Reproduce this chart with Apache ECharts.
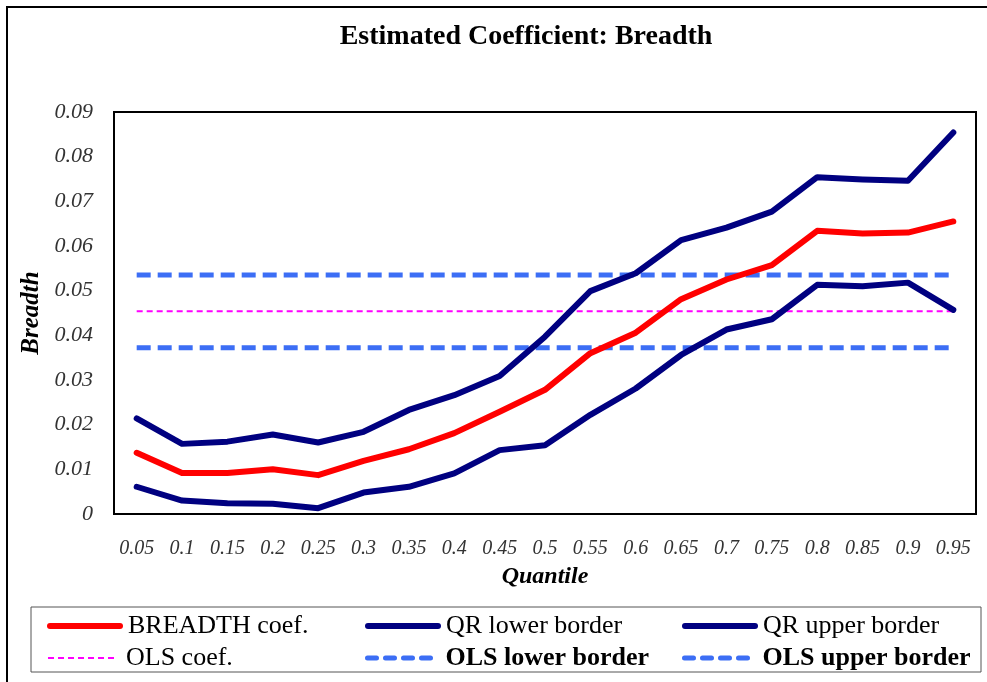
<!DOCTYPE html>
<html>
<head>
<meta charset="utf-8">
<script src="https://cdn.jsdelivr.net/npm/echarts@6/dist/echarts.min.js"></script>
<style>
html,body{margin:0;padding:0;background:#fff;}
#chart{width:987px;height:682px;}
</style>
</head>
<body>
<div id="chart"></div>
<script>
const quantiles = ['0.05','0.1','0.15','0.2','0.25','0.3','0.35','0.4','0.45','0.5','0.55','0.6','0.65','0.7','0.75','0.8','0.85','0.9','0.95'];
const breadthCoef = [0.0137,0.0092,0.0092,0.0100,0.0087,0.0119,0.0145,0.0181,0.0229,0.0278,0.0360,0.0406,0.0481,0.0525,0.0557,0.0634,0.0628,0.0630,0.0655];
const qrLower = [0.0061,0.0030,0.0024,0.0023,0.0013,0.0048,0.0061,0.0091,0.0143,0.0154,0.0222,0.0281,0.0356,0.0413,0.0436,0.0513,0.0510,0.0518,0.0457];
const qrUpper = [0.0214,0.0157,0.0162,0.0178,0.0160,0.0184,0.0233,0.0266,0.0309,0.0397,0.0499,0.0539,0.0613,0.0641,0.0677,0.0754,0.0749,0.0746,0.0854];
const olsCoef = 0.0454;
const olsLower = 0.0372;
const olsUpper = 0.0535;
const yTicks = ['0','0.01','0.02','0.03','0.04','0.05','0.06','0.07','0.08','0.09'];

const serif = '"Liberation Serif","Times New Roman",serif';
const olsCoefArr = quantiles.map(() => olsCoef);
const olsLowerArr = quantiles.map(() => olsLower);
const olsUpperArr = quantiles.map(() => olsUpper);

const RED = '#FF0000', NAVY = '#000080', BLUE = '#3C6EF5', MAG = '#FF00FF';

function legendItem(name, left, top, bold, lineStyle) {
  return {
    data: [name], left: left, top: top, padding: 0,
    itemWidth: 70, itemHeight: 14, itemGap: 0,
    selectedMode: false,
    itemStyle: { opacity: 0 },
    lineStyle: lineStyle,
    textStyle: { fontFamily: serif, fontSize: 26, color: '#000', fontWeight: bold ? 'bold' : 'normal', padding: [0,0,0,3] }
  };
}

const solidLeg = { width: 6, cap: 'round', type: 'solid' };
const blueLeg = { width: 5, cap: 'round', type: [9, 9] };
const magLeg = { width: 2, type: [6, 4] };

const chart = echarts.init(document.getElementById('chart'));
chart.setOption({
  animation: false,
  backgroundColor: '#fff',
  title: {
    text: 'Estimated Coefficient: Breadth',
    left: 521, top: 18, textAlign: 'center',
    textStyle: { fontFamily: serif, fontSize: 28, fontWeight: 'bold', color: '#000' }
  },
  grid: { left: 114, right: 11, top: 112, bottom: 168, show: true, borderColor: '#000', borderWidth: 2, backgroundColor: 'transparent' },
  legend: [
    legendItem('BREADTH coef.', 47, 613, false, solidLeg),
    legendItem('QR lower border', 365, 613, false, solidLeg),
    legendItem('QR upper border', 682, 613, false, solidLeg),
    legendItem('OLS coef.', 47, 645, false, magLeg),
    legendItem('OLS lower border', 365, 645, true, blueLeg),
    legendItem('OLS upper border', 682, 645, true, blueLeg)
  ],
  xAxis: {
    type: 'category', data: quantiles, boundaryGap: true,
    name: 'Quantile', nameLocation: 'middle', nameGap: 51,
    nameTextStyle: { fontFamily: serif, fontSize: 24, fontWeight: 'bold', fontStyle: 'italic', color: '#000' },
    axisLine: { show: true, lineStyle: { color: '#000', width: 2 } },
    axisTick: { show: false },
    axisLabel: { interval: 0, margin: 25, fontFamily: serif, fontSize: 20, fontStyle: 'italic', color: '#333' },
    splitLine: { show: false }
  },
  yAxis: {
    type: 'value', min: 0, max: 0.09, interval: 0.01,
    name: 'Breadth', nameLocation: 'middle', nameGap: 70,
    nameTextStyle: { fontFamily: serif, fontSize: 25, fontWeight: 'bold', fontStyle: 'italic', color: '#000' },
    axisLine: { show: true, lineStyle: { color: '#000', width: 2 } },
    axisTick: { show: false },
    splitLine: { show: false },
    axisLabel: {
      margin: 21, fontFamily: serif, fontSize: 22, fontStyle: 'italic', color: '#333',
      formatter: function (v) { return yTicks[Math.round(v * 100)]; }
    }
  },
  series: [
    { name: 'OLS coef.', type: 'line', data: olsCoefArr, symbol: 'none', z: 1,
      lineStyle: { color: MAG, width: 2, type: [6, 4] }, itemStyle: { color: MAG } },
    { name: 'OLS lower border', type: 'line', data: olsLowerArr, symbol: 'none', z: 1,
      lineStyle: { color: BLUE, width: 5, type: [14, 7] }, itemStyle: { color: BLUE } },
    { name: 'OLS upper border', type: 'line', data: olsUpperArr, symbol: 'none', z: 1,
      lineStyle: { color: BLUE, width: 5, type: [14, 7] }, itemStyle: { color: BLUE } },
    { name: 'QR lower border', type: 'line', data: qrLower, symbol: 'none', z: 2,
      lineStyle: { color: NAVY, width: 6, cap: 'round', join: 'round' }, itemStyle: { color: NAVY } },
    { name: 'QR upper border', type: 'line', data: qrUpper, symbol: 'none', z: 2,
      lineStyle: { color: NAVY, width: 6, cap: 'round', join: 'round' }, itemStyle: { color: NAVY } },
    { name: 'BREADTH coef.', type: 'line', data: breadthCoef, symbol: 'none', z: 3,
      lineStyle: { color: RED, width: 6, cap: 'round', join: 'round' }, itemStyle: { color: RED } }
  ],
  graphic: [
    { type: 'rect', shape: { x: 7, y: 7, width: 1000, height: 700 }, style: { fill: 'none', stroke: '#000', lineWidth: 2 }, silent: true },
    { type: 'rect', shape: { x: 31, y: 607, width: 950, height: 65 }, style: { fill: 'none', stroke: '#555', lineWidth: 1 }, silent: true }
  ]
});
</script>
</body>
</html>
